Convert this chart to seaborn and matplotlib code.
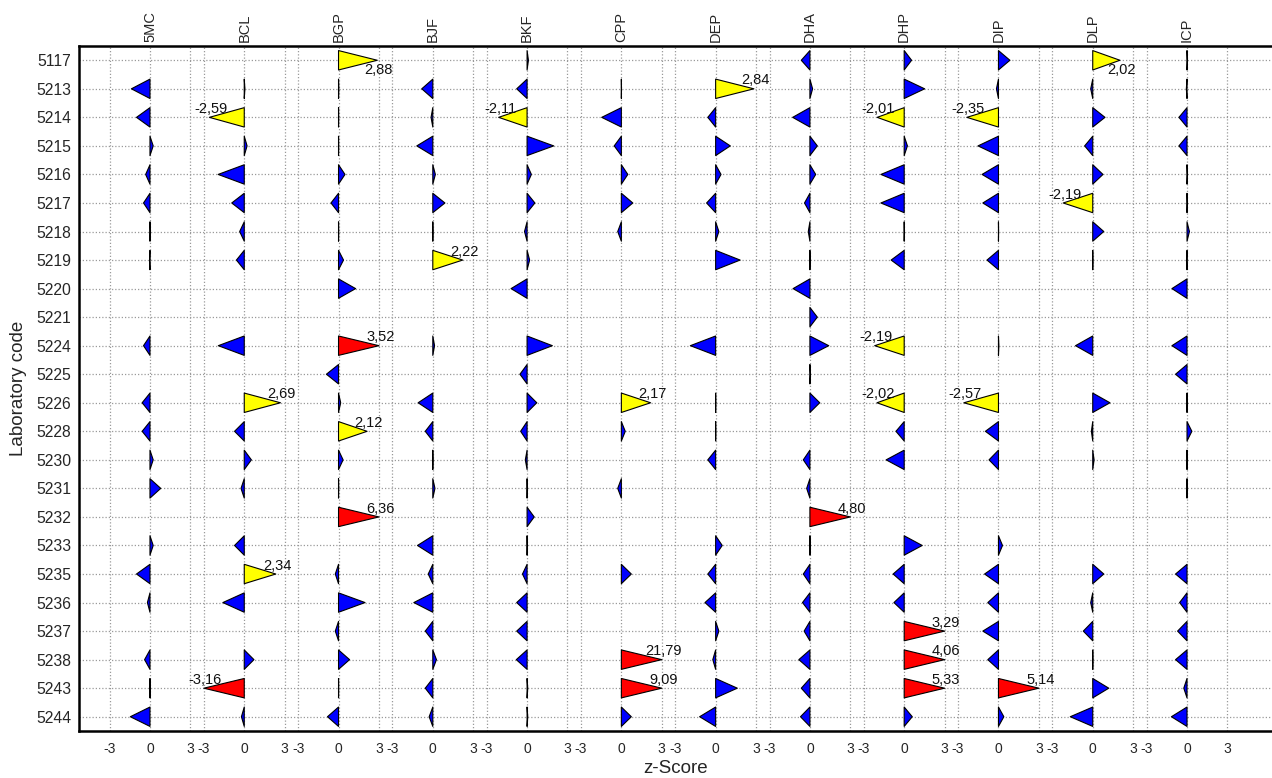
import numpy as np
import pandas as pd
import seaborn as sns
import matplotlib
matplotlib.use("Agg")
import matplotlib.pyplot as plt
from matplotlib.patches import Polygon
from matplotlib.collections import PatchCollection
import matplotlib.transforms as mtransforms

nan = np.nan

lab_codes = ["5117", "5213", "5214", "5215", "5216", "5217", "5218", "5219", "5220",
             "5221", "5224", "5225", "5226", "5228", "5230", "5231", "5232", "5233",
             "5235", "5236", "5237", "5238", "5243", "5244"]
analytes = ["5MC", "BCL", "BGP", "BJF", "BKF", "CPP", "DEP", "DHA", "DHP", "DIP", "DLP", "ICP"]

z_5MC = [nan, -1.38, -1.0, 0.24, -0.32, -0.48, 0.02, -0.03, nan, nan, -0.48, nan,
         -0.58, -0.58, 0.24, 0.8, nan, 0.24, -1.0, -0.19, nan, -0.4, 0.01, -1.46]
z_BCL = [nan, 0.05, -2.59, 0.21, -1.94, -0.93, -0.34, -0.58, nan, nan, -1.93, nan,
         2.69, -0.72, 0.53, -0.24, nan, -0.72, 2.34, -1.59, nan, 0.72, -3.16, -0.21]
z_BGP = [2.88, 0.02, 0.01, 0.01, 0.48, -0.56, 0.01, 0.37, 1.27, nan, 3.52, -0.9,
         0.16, 2.12, 0.34, 0.01, 6.36, nan, -0.24, 1.97, -0.24, 0.82, 0.01, -0.82]
z_BJF = [nan, -0.82, -0.13, -1.19, 0.19, 0.9, 0.01, 2.22, nan, nan, 0.13, nan,
         -1.09, -0.56, 0.01, 0.16, nan, -1.14, -0.34, -1.41, -0.56, 0.27, -0.56, -0.27]
z_BKF = [0.1, -0.77, -2.11, 1.98, 0.32, 0.58, -0.19, 0.19, -1.19, nan, 1.88, -0.53,
         0.72, -0.48, -0.13, 0.01, 0.53, 0.01, -0.34, -0.77, -0.77, -0.8, 0.05, 0.05]
z_CPP = [nan, 0.01, -1.46, -0.53, 0.48, 0.85, -0.27, nan, nan, nan, nan, nan,
         2.17, 0.29, nan, -0.27, nan, nan, 0.74, nan, nan, 21.79, 9.09, 0.74]
z_DEP = [nan, 2.84, -0.58, 1.09, 0.4, -0.67, 0.24, 1.82, nan, nan, -1.88, nan,
         0.01, 0.01, -0.58, nan, nan, 0.49, -0.58, -0.79, 0.24, -0.21, 1.61, -1.19]
z_DHA = [-0.64, 0.2, -1.28, 0.55, 0.43, -0.4, -0.12, 0.01, -1.25, 0.55, 1.4, 0.04,
         0.73, nan, -0.49, -0.24, 4.80, 0.02, -0.49, -0.55, -0.43, -0.82, -0.64, -0.7]
z_DHP = [0.55, 1.52, -2.01, 0.24, -1.73, -1.73, 0.01, -0.97, nan, nan, -2.19, nan,
         -2.02, -0.61, -1.34, nan, nan, 1.34, -0.82, -0.76, 3.29, 4.06, 5.33, 0.6]
z_DIP = [0.85, -0.15, -2.35, -1.52, -1.22, -1.16, 0.01, -0.85, nan, nan, 0.03, nan,
         -2.57, -0.97, -0.7, nan, nan, 0.3, -1.03, -0.79, -1.16, -0.79, 5.14, 0.4]
z_DLP = [2.02, -0.15, 0.91, -0.6, 0.76, -2.19, 0.82, 0.01, nan, nan, -1.28, nan,
         1.28, -0.1, 0.1, nan, nan, nan, 0.82, -0.15, -0.7, 0.01, 1.19, -1.67]
z_ICP = [0.03, -0.05, -0.6, -0.6, 0.03, 0.02, 0.18, -0.02, -1.12, nan, -1.12, -0.85,
         0.01, 0.36, 0.01, 0.01, nan, nan, -0.85, -0.55, -0.7, -0.85, -0.24, -1.16]

series = [z_5MC, z_BCL, z_BGP, z_BJF, z_BKF, z_CPP, z_DEP, z_DHA, z_DHP, z_DIP, z_DLP, z_ICP]

# long table
recs = []
for ci, (name, vals) in enumerate(zip(analytes, series)):
    for ri, (code, v) in enumerate(zip(lab_codes, vals)):
        recs.append({"analyte": name, "col": ci, "lab": code, "row": ri, "z": v})
df = pd.DataFrame(recs).dropna()

sns.set_style("white")
plt.rcParams['font.family'] = ['Liberation Sans', 'DejaVu Sans']

W, H = 1272, 778
fig = plt.figure(figsize=(W / 100, H / 100), dpi=100)
ax = fig.add_axes([79 / W, 1 - 731 / H, 1 - 79 / W, (731 - 46) / H])

SPACING = 7.0
CAP = 3.0
HALF = 0.34

ax.set_xlim(-5.27, 83.31)
ax.set_ylim(len(lab_codes) - 0.5, -0.5)

def colour(z):
    a = abs(z)
    if a <= 2:
        return "#0000ff"
    if a <= 3:
        return "#ffff00"
    return "#ff0000"

patches, fcs = [], []
for _, r in df.iterrows():
    x0 = r["col"] * SPACING
    zc = float(np.clip(r["z"], -CAP, CAP))
    y = r["row"]
    patches.append(Polygon([(x0, y - HALF), (x0, y + HALF), (x0 + zc, y)], closed=True))
    fcs.append(colour(r["z"]))
pc = PatchCollection(patches, facecolors=fcs, edgecolors="black", linewidths=0.8, zorder=3)
ax.add_collection(pc)

# value labels
for _, r in df.iterrows():
    z = r["z"]
    if abs(z) > 2:
        x0 = r["col"] * SPACING
        zc = float(np.clip(z, -CAP, CAP))
        txt = f"{z:.2f}".replace(".", ",")
        if r["row"] == 0:
            ax.annotate(txt, xy=(x0 + zc, r["row"]), xytext=(1, -2), textcoords="offset points",
                        ha="center", va="top", fontsize=10.5, color="#111111", zorder=4)
        else:
            ax.annotate(txt, xy=(x0 + zc, r["row"]), xytext=(1, 1), textcoords="offset points",
                        ha="center", va="bottom", fontsize=10.5, color="#111111", zorder=4)

# ticks
xt, xl = [], []
for ci in range(len(analytes)):
    for d in (-3, 0, 3):
        xt.append(ci * SPACING + d)
        xl.append(str(d))
ax.set_xticks(xt)
ax.set_xticklabels(xl, fontsize=10)
ax.set_yticks(range(len(lab_codes)))
ax.set_yticklabels(lab_codes, fontsize=11.3)
ax.tick_params(axis="x", direction="out", length=5, width=1, color="#888888", pad=3)
ax.tick_params(axis="y", direction="out", length=4, width=1, color="black", pad=1.5)

ax.grid(True, linestyle=(0, (1, 1.6)), color="#9a9a9a", linewidth=0.9, zorder=0)
ax.set_axisbelow(True)

sns.despine(ax=ax, right=True, top=False)
for s in ("left", "top", "bottom"):
    ax.spines[s].set_linewidth(1.8)
    ax.spines[s].set_color("black")

# column labels on top
trans = mtransforms.blended_transform_factory(ax.transData, ax.transAxes)
for ci, name in enumerate(analytes):
    ax.annotate(name, xy=(ci * SPACING, 1.0), xycoords=trans, xytext=(0, 3),
                textcoords="offset points", rotation=90, ha="center", va="bottom",
                fontsize=10.5)

ax.set_xlabel("z-Score", fontsize=13.5)
ax.set_ylabel("Laboratory code", fontsize=13.5)
ax.xaxis.set_label_coords(0.5, -(760 - 731) / 685)
ax.yaxis.set_label_coords(-(79 - 27) / 1193, 0.5)

fig.savefig("out.png", dpi=100)
